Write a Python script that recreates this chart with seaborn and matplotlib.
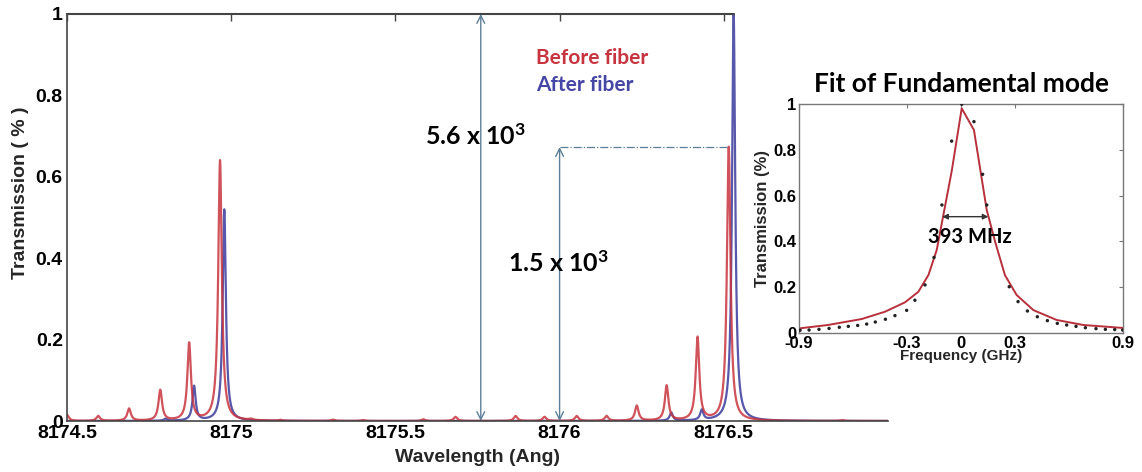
import numpy as np
import pandas as pd
import seaborn as sns
import matplotlib
matplotlib.use("Agg")
import matplotlib.pyplot as plt

# ---------------- data ----------------
# main spectrum: Lorentzian peaks (centre in Angstrom, height)
red_centers = [8174.50, 8174.595, 8174.689, 8174.784, 8174.872, 8174.966,
               8175.06, 8175.15, 8175.31, 8175.40, 8175.585, 8175.683,
               8175.866, 8175.954, 8176.052, 8176.143, 8176.235, 8176.326,
               8176.42, 8176.515, 8176.86]
red_heights = [0.015, 0.012, 0.030, 0.075, 0.19, 0.64,
               0.003, 0.002, 0.003, 0.002, 0.004, 0.010,
               0.012, 0.010, 0.012, 0.012, 0.037, 0.086,
               0.204, 0.673, 0.002]
blue_centers = [8174.80, 8174.887, 8174.979, 8176.34, 8176.433, 8176.53]
blue_heights = [0.005, 0.085, 0.52, 0.02, 0.025, 1.00]
red_hwhm = 0.0065
blue_hwhm = 0.0058

# inset: measured points and fit
dots_f = [-0.894, -0.844, -0.789, -0.733, -0.676, -0.626, -0.574, -0.524, -0.476,
          -0.420, -0.367, -0.302, -0.256, -0.200, -0.150, -0.106, -0.052, 0.004,
          0.072, 0.120, 0.143, 0.268, 0.317, 0.369, 0.424, 0.480, 0.535, 0.587,
          0.639, 0.691, 0.750, 0.802, 0.854, 0.898]
dots_t = [0.012, 0.013, 0.016, 0.020, 0.025, 0.029, 0.033, 0.039, 0.048,
          0.060, 0.076, 0.099, 0.143, 0.210, 0.330, 0.559, 0.838, 0.999,
          0.923, 0.693, 0.559, 0.202, 0.137, 0.096, 0.071, 0.054, 0.042, 0.035,
          0.029, 0.023, 0.019, 0.016, 0.015, 0.013]
fit_f = [-0.9, -0.739, -0.552, -0.422, -0.311, -0.237, -0.181, -0.135, -0.098,
         -0.052, 0.004, 0.072, 0.143, 0.189, 0.244, 0.309, 0.402, 0.531, 0.679, 0.9]
fit_t = [0.020, 0.035, 0.061, 0.093, 0.134, 0.180, 0.253, 0.362, 0.515,
         0.705, 0.981, 0.886, 0.537, 0.400, 0.253, 0.166, 0.100, 0.057, 0.035, 0.022]

main_xticks = [8174.5, 8175, 8175.5, 8176, 8176.5]
main_xticklabels = ["8174.5", "8175", "8175.5", "8176", "8176.5"]
main_yticks = [0, 0.2, 0.4, 0.6, 0.8, 1]
main_yticklabels = ["0", "0.2", "0.4", "0.6", "0.8", "1"]
inset_xticks = [-0.9, -0.3, 0, 0.3, 0.9]
inset_xticklabels = ["-0.9", "-0.3", "0", "0.3", "0.9"]

# ---------------- build curves ----------------
wl = np.linspace(8174.5, 8177.0, 8000)


def lorentz_sum(x, centers, heights, g):
    y = np.zeros_like(x)
    for c, h in zip(centers, heights):
        y += h * g**2 / ((x - c) ** 2 + g**2)
    return y


df_main = pd.concat([
    pd.DataFrame({"wl": wl, "T": lorentz_sum(wl, red_centers, red_heights, red_hwhm),
                  "series": "Before fiber"}),
    pd.DataFrame({"wl": wl, "T": lorentz_sum(wl, blue_centers, blue_heights, blue_hwhm),
                  "series": "After fiber"}),
])
df_dots = pd.DataFrame({"f": dots_f, "T": dots_t})
df_fit = pd.DataFrame({"f": fit_f, "T": fit_t})

# ---------------- style ----------------
sns.set_theme(style="white")
plt.rcParams["font.family"] = ["Liberation Sans", "DejaVu Sans"]
plt.rcParams["font.weight"] = "bold"
plt.rcParams["axes.labelweight"] = "bold"
plt.rcParams["mathtext.fontset"] = "custom"
plt.rcParams["mathtext.rm"] = "Lato:bold"
plt.rcParams["mathtext.bf"] = "Lato:bold"
plt.rcParams["mathtext.default"] = "bf"

RED = "#c8343e"
BLUE = "#3a3a9c"
ANN = "#5c7f98"
CAL = ["Lato", "DejaVu Sans"]

fig = plt.figure(figsize=(11.42, 4.72), dpi=100)
ax = fig.add_axes([67 / 1142, 51 / 472, 821 / 1142, 407 / 472])

sns.lineplot(data=df_main, x="wl", y="T", hue="series",
             palette={"Before fiber": RED, "After fiber": BLUE},
             hue_order=["After fiber", "Before fiber"],
             lw=1.6, alpha=0.85, legend=False, ax=ax)

ax.set_xlim(8174.5, 8177.0)
ax.set_ylim(0, 1)
ax.set_xticks(main_xticks)
ax.set_xticklabels(main_xticklabels)
ax.set_yticks(main_yticks)
ax.set_yticklabels(main_yticklabels)
ax.tick_params(axis="both", direction="in", length=5, width=1, colors="#444444",
               labelcolor="black", labelsize=14, top=True, pad=3)
for lab in ax.get_xticklabels() + ax.get_yticklabels():
    lab.set_fontweight("bold")
ax.set_xlabel("Wavelength (Ang)", fontsize=14, fontweight="bold")
ax.set_ylabel("Transmission ( % )", fontsize=14, fontweight="bold")
ax.xaxis.set_label_coords(0.5, -0.068)
ax.yaxis.set_label_coords(-0.046, 0.56)
for s in ["left", "bottom"]:
    ax.spines[s].set_color("#444444")
    ax.spines[s].set_linewidth(1.2)
ax.spines["right"].set_visible(False)
ax.spines["top"].set_visible(False)
# top frame line stops where the inset panel begins
ax.axhline(1.0, xmin=0, xmax=(734 - 67) / 821, color="#444444", lw=1.5, clip_on=False)

# annotations
ax.annotate("", xy=(8175.76, 1.0), xytext=(8175.76, 0.0),
            arrowprops=dict(arrowstyle="<->", color=ANN, lw=1.0,
                            mutation_scale=14, shrinkA=0, shrinkB=0))
ax.annotate("", xy=(8176.0, 0.673), xytext=(8176.0, 0.0),
            arrowprops=dict(arrowstyle="<->", color=ANN, lw=1.0,
                            mutation_scale=14, shrinkA=0, shrinkB=0))
ax.plot([8176.0, 8176.515], [0.673, 0.673], linestyle="-.", color=ANN, lw=0.9)
ax.text(8175.744, 0.70, "5.6 x 10$^{3}$", family=CAL, fontweight="bold", fontsize=18,
        ha="center", va="center", color="black")
ax.text(8175.997, 0.388, "1.5 x 10$^{3}$", family=CAL, fontweight="bold", fontsize=18,
        ha="center", va="center", color="black")
ax.text(8175.927, 0.892, "Before fiber", family=CAL, fontweight="bold", fontsize=15,
        ha="left", va="center", color=RED)
ax.text(8175.927, 0.826, "After fiber", family=CAL, fontweight="bold", fontsize=15,
        ha="left", va="center", color="#4646a6")

# ---------------- inset ----------------
ax2 = fig.add_axes([799 / 1142, 139 / 472, 324 / 1142, 229 / 472], zorder=2)
sns.lineplot(data=df_fit, x="f", y="T", color="#b8303c", lw=1.4, ax=ax2)
sns.scatterplot(data=df_dots, x="f", y="T", color="#222222", s=6, edgecolor="none",
                ax=ax2, zorder=3)
ax2.set_xlim(-0.9, 0.9)
ax2.set_ylim(0, 1)
ax2.set_xticks(inset_xticks)
ax2.set_xticklabels(inset_xticklabels)
ax2.set_yticks(main_yticks)
ax2.set_yticklabels(main_yticklabels)
ax2.tick_params(axis="both", direction="in", length=3, width=0.8, colors="#777777",
                labelcolor="black", labelsize=12, top=True, right=True, pad=2)
for lab in ax2.get_xticklabels() + ax2.get_yticklabels():
    lab.set_fontweight("bold")
for s in ax2.spines.values():
    s.set_color("#777777")
    s.set_linewidth(1.0)
ax2.set_xlabel("Frequency (GHz)", fontsize=11, fontweight="bold", labelpad=-1)
ax2.set_ylabel("Transmission (%)", fontsize=12, fontweight="bold", labelpad=2)
ax2.set_title("Fit of Fundamental mode", family=CAL, fontweight="bold", fontsize=19,
              pad=9, color="black")
ax2.annotate("", xy=(-0.104, 0.508), xytext=(0.152, 0.508),
             arrowprops=dict(arrowstyle="<|-|>", color="#333333", lw=1.0,
                             mutation_scale=8, shrinkA=0, shrinkB=0))
ax2.text(0.05, 0.42, "393 MHz", family=CAL, fontweight="bold", fontsize=14.5,
         ha="center", va="center", color="black")

fig.savefig("out.png", dpi=100)
